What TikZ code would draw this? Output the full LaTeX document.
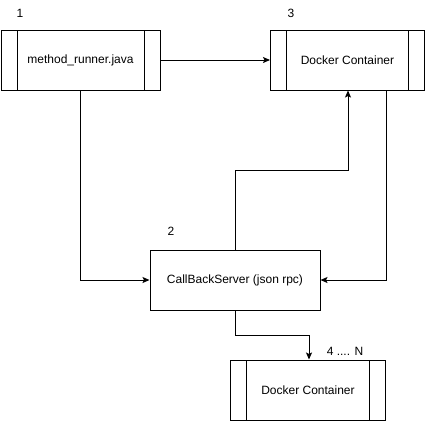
\documentclass[tikz,border=0pt]{standalone}
\usepackage{fontspec}
\setmainfont{Liberation Sans}
\usetikzlibrary{arrows.meta}
\begin{document}
\begin{tikzpicture}[x=1pt,y=-1pt,
  every node/.style={font=\fontsize{12}{14}\selectfont},
  procbox/.style={draw,line width=1pt,rectangle,inner sep=0pt,minimum height=60pt,
    path picture={\draw[line width=1pt]
      ([xshift=16pt]path picture bounding box.north west) -- ([xshift=16pt]path picture bounding box.south west)
      ([xshift=-16pt]path picture bounding box.north east) -- ([xshift=-16pt]path picture bounding box.south east);}},
  plainbox/.style={draw,line width=1pt,rectangle,inner sep=0pt,minimum height=60pt},
  lbl/.style={inner sep=0pt},
  conn/.style={line width=1pt,-{Stealth[length=7pt,width=6pt,inset=1.5pt]}}]
\useasboundingbox (0,0) rectangle (426,421);
\node[procbox,minimum width=159pt] (m) at (80.5,60) {method\_runner.java};
\node[procbox,minimum width=154pt] (d3) at (347.5,60) {Docker Container};
\node[plainbox,minimum width=170pt] (cb) at (235,280) {CallBackServer (json rpc)};
\node[procbox,minimum width=155pt] (d4) at (308,390) {Docker Container};
\node[lbl] (l1) at (20,13) {1};
\node[lbl] (l3) at (291,13) {3};
\node[lbl] (l2) at (171,231) {2};
\node[lbl] (l4) at (345,351) {4 .... N};
\coordinate (a1) at (235,170);
\coordinate (a2) at (348,170);
\coordinate (b1) at (235,335);
\coordinate (b2) at (309,335);
\draw[conn] (m.east) -- (d3.west);
\draw[conn] (m.south) |- (cb.west);
\draw[conn] ([xshift=38.5pt]d3.south) |- (cb.east);
\draw[conn] (cb.north -| a1) -- (a1) -- (a2) -- (a2 |- d3.south);
\draw[conn] (cb.south) -- (b1) -- (b2) -- (b2 |- d4.north);
\end{tikzpicture}
\end{document}
